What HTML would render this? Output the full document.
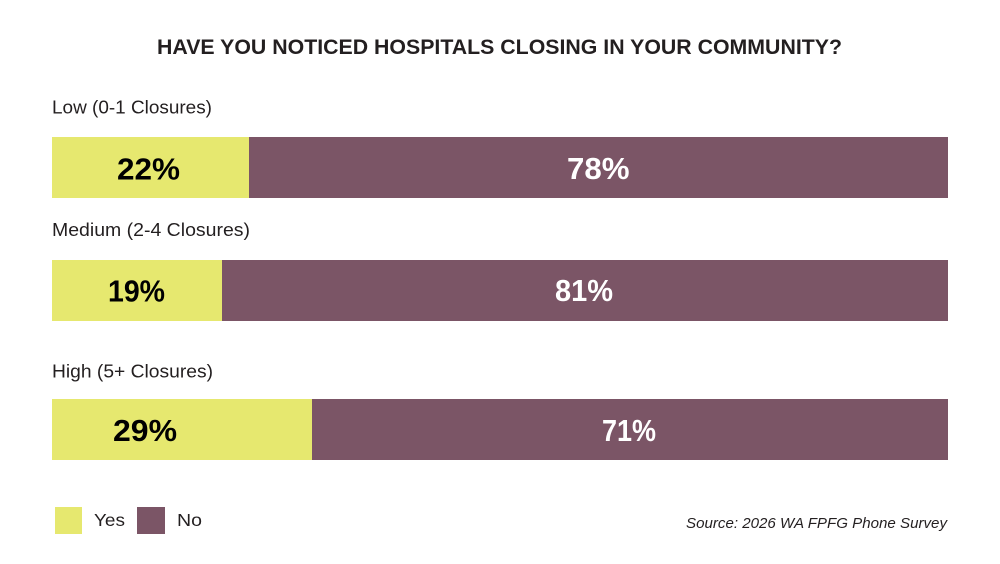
<!DOCTYPE html>
<html>
<head>
<meta charset="utf-8">
<style>
html,body{margin:0;padding:0;background:#fff;}
svg{display:block;}
text{font-family:"Liberation Sans",sans-serif;}
</style>
</head>
<body>
<svg width="1000" height="564" viewBox="0 0 1000 564" xmlns="http://www.w3.org/2000/svg">
<rect x="0" y="0" width="1000" height="564" fill="#fff"/>
<text x="157" y="54" font-size="21.5" font-weight="bold" fill="#231F20" textLength="685" lengthAdjust="spacingAndGlyphs">HAVE YOU NOTICED HOSPITALS CLOSING IN YOUR COMMUNITY?</text>

<text x="52" y="113.5" font-size="18" fill="#231F20" textLength="160" lengthAdjust="spacingAndGlyphs">Low (0-1 Closures)</text>
<rect x="52" y="137" width="197" height="61" fill="#E6E86F"/>
<rect x="249" y="137" width="699" height="61" fill="#7B5566"/>
<text x="117" y="179.5" font-size="31" font-weight="bold" fill="#000" textLength="63" lengthAdjust="spacingAndGlyphs">22%</text>
<text x="567" y="179" font-size="31" font-weight="bold" fill="#fff" textLength="62.5" lengthAdjust="spacingAndGlyphs">78%</text>

<text x="52" y="236" font-size="18" fill="#231F20" textLength="198" lengthAdjust="spacingAndGlyphs">Medium (2-4 Closures)</text>
<rect x="52" y="260" width="170" height="61" fill="#E6E86F"/>
<rect x="222" y="260" width="726" height="61" fill="#7B5566"/>
<text x="108" y="301.5" font-size="31" font-weight="bold" fill="#000" textLength="57" lengthAdjust="spacingAndGlyphs">19%</text>
<text x="555" y="301" font-size="31" font-weight="bold" fill="#fff" textLength="58" lengthAdjust="spacingAndGlyphs">81%</text>

<text x="52" y="377.5" font-size="18" fill="#231F20" textLength="161" lengthAdjust="spacingAndGlyphs">High (5+ Closures)</text>
<rect x="52" y="399" width="260" height="61" fill="#E6E86F"/>
<rect x="312" y="399" width="636" height="61" fill="#7B5566"/>
<text x="113" y="441" font-size="31" font-weight="bold" fill="#000" textLength="64" lengthAdjust="spacingAndGlyphs">29%</text>
<text x="602" y="441" font-size="31" font-weight="bold" fill="#fff" textLength="54" lengthAdjust="spacingAndGlyphs">71%</text>

<rect x="55" y="507" width="27" height="27" fill="#E6E86F"/>
<text x="94" y="526" font-size="17.5" fill="#231F20" textLength="31" lengthAdjust="spacingAndGlyphs">Yes</text>
<rect x="137" y="507" width="28" height="27" fill="#7B5566"/>
<text x="177" y="526" font-size="17.5" fill="#231F20" textLength="25" lengthAdjust="spacingAndGlyphs">No</text>

<text x="686" y="528" font-size="15" font-style="italic" fill="#231F20" textLength="261" lengthAdjust="spacingAndGlyphs">Source: 2026 WA FPFG Phone Survey</text>
</svg>
</body>
</html>
